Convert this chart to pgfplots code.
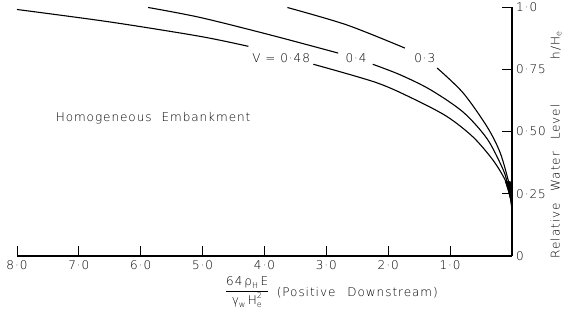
\documentclass[border=0pt]{standalone}
\usepackage{fontspec}
\setmainfont{DejaVu Sans ExtraLight}[LetterSpace=8]
\usepackage{amsmath}
\usepackage{pgfplots}
\pgfplotsset{compat=1.18}
\begin{document}
\fontsize{12}{14}\selectfont
\begin{tikzpicture}
\begin{axis}[
  at={(0,0)}, anchor=south west,
  scale only axis, width=495pt, height=249pt,
  xmin=0, xmax=8, ymin=0, ymax=1,
  x dir=reverse,
  axis x line*=bottom, axis y line*=right,
  tick align=inside,
  major tick length=10pt,
  xtick={0,1,2,3,4,5,6,7,8},
  xticklabels={,1·0,2·0,3·0,4·0,5·0,6·0,7·0,8·0},
  ytick={0,0.25,0.5,0.75,1},
  yticklabels={0,0·25,0·50,0·75,1·0},
  every tick label/.append style={font=\fontsize{12}{14}\selectfont},
  axis line style={line width=1.1pt,-},
  tick style={line width=0.9pt,black},
  clip=false,
  curve/.style={black,line width=1.1pt,smooth,tension=0.5,no marks},
]
% v = 0.48
\addplot[curve] coordinates {(8.0,0.990) (6.5,0.940) (5.04,0.882) (4.26,0.842)};
\addplot[curve] coordinates {(3.21,0.770) (2.2,0.697) (1.6,0.632) (1.05,0.560) (0.63,0.478) (0.31,0.386) (0.11,0.305) (0.03,0.24) (0,0.19)};
% v = 0.4
\addplot[curve] coordinates {(5.88,0.998) (5.04,0.958) (3.91,0.888) (2.81,0.815)};
\addplot[curve] coordinates {(2.25,0.770) (1.81,0.728) (1.32,0.668) (0.79,0.578) (0.40,0.470) (0.145,0.348) (0.075,0.293) (0.02,0.24) (0,0.19)};
% v = 0.3
\addplot[curve] coordinates {(3.63,0.998) (2.67,0.928) (1.73,0.835)};
\addplot[curve] coordinates {(1.21,0.755) (0.79,0.655) (0.40,0.518) (0.19,0.414) (0.05,0.293) (0.015,0.24) (0,0.19)};
% wedge
\addplot[fill=black,draw=black,line width=0.5pt,no marks] coordinates {(0.11,0.30) (0.03,0.30) (0,0.28) (0,0.17) (0.02,0.22) (0.06,0.26)} -- cycle;
\node at (axis cs:3.73,0.795) {V = 0·48};
\node at (axis cs:2.52,0.795) {0·4};
\node at (axis cs:1.41,0.795) {0·3};
\node at (axis cs:5.80,0.554) {Homogeneous\hspace{10pt}Embankment};
\node[rotate=90,anchor=west,inner sep=0pt] at (axis cs:-0.711,-0.01) {Relative\hspace{12pt}Water\hspace{12pt}Level\hspace{45pt}h/H\textsubscript{e}};
\node at (axis cs:4.28,-0.145) {$\dfrac{\text{64\,ρ}_{\text{H}}\,\text{E}}{\text{γ}_{\text{w}}\,\text{H}_{\text{e}}^{\text{2}}}$};
\node at (axis cs:2.50,-0.149) {(Positive\hspace{12pt}Downstream)};
\end{axis}
\pgfresetboundingbox
\path (-17pt,-70pt) rectangle (555pt,256pt);
\end{tikzpicture}
\end{document}
